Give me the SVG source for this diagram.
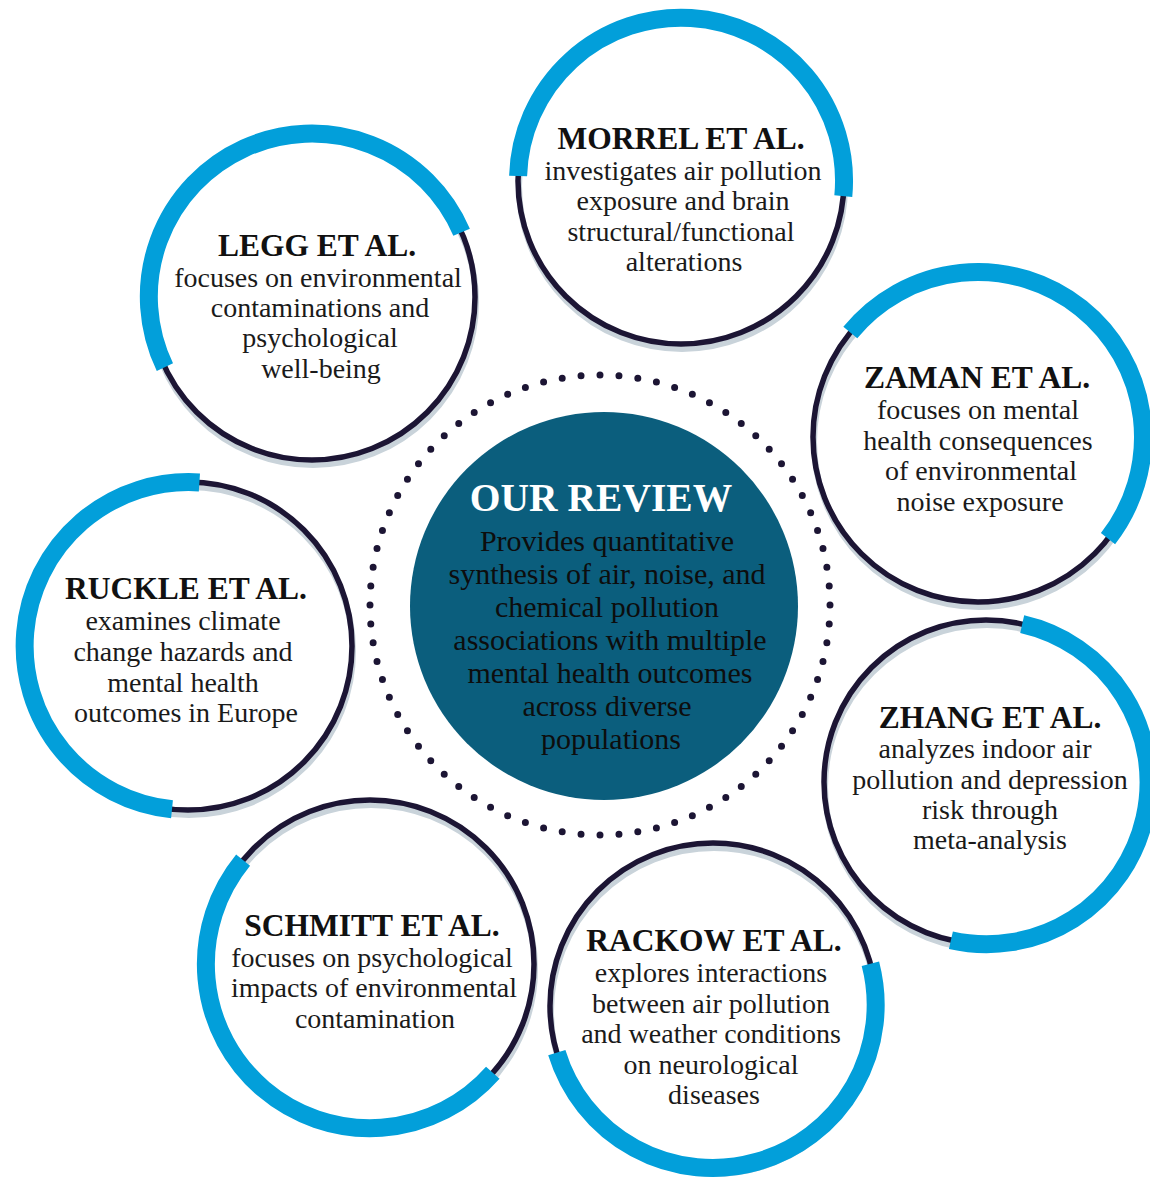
<svg xmlns="http://www.w3.org/2000/svg" width="1150" height="1179" viewBox="0 0 1150 1179">
<style>
.shadow{fill:none;stroke:#c9d3da;stroke-width:6}
.ring{fill:none;stroke:#1c1534;stroke-width:5.5}
.arc{fill:none;stroke:#029fda;stroke-width:18;stroke-linecap:butt}
.title{font-family:"Liberation Serif",serif;font-weight:bold;font-size:31.5px;fill:#111;text-anchor:middle}
.body{font-family:"Liberation Serif",serif;font-size:28px;fill:#1a1a1a;text-anchor:middle}
.ctitle{font-family:"Liberation Serif",serif;font-weight:bold;font-size:39.5px;fill:#ffffff;text-anchor:middle}
.cbody{font-family:"Liberation Serif",serif;font-size:30px;fill:#0d0d0d;text-anchor:middle}
</style>
<rect width="1150" height="1179" fill="#ffffff"/>

<g id="connectors">
<circle cx="600" cy="605" r="230" fill="none" stroke="#1c1534" stroke-width="7" stroke-linecap="round" pathLength="76" stroke-dasharray="0 1"/>
</g>

<g id="our-review">
<circle cx="604" cy="606" r="194" fill="#0b5e7d"/>
<text class="ctitle" x="601" y="511">OUR REVIEW</text>
<text class="cbody" x="607" y="551">Provides quantitative</text>
<text class="cbody" x="607" y="584">synthesis of air, noise, and</text>
<text class="cbody" x="607" y="617">chemical pollution</text>
<text class="cbody" x="610" y="650">associations with multiple</text>
<text class="cbody" x="610" y="683">mental health outcomes</text>
<text class="cbody" x="607" y="716">across diverse</text>
<text class="cbody" x="611" y="749">populations</text>
</g>

<g id="morrel">
<circle class="shadow" cx="682" cy="186" r="163"/>
<circle class="ring" cx="681" cy="181" r="163"/>
<path class="arc" d="M518.1,175.9 A163,163 0 1 1 843.3,196.1"/>
<text class="title" x="681" y="149">MORREL ET AL.</text>
<text class="body" x="683" y="180">investigates air pollution</text>
<text class="body" x="683" y="210">exposure and brain</text>
<text class="body" x="681" y="241">structural/functional</text>
<text class="body" x="684" y="271">alterations</text>
</g>

<g id="legg">
<circle class="shadow" cx="313" cy="302" r="163"/>
<circle class="ring" cx="312" cy="297" r="163"/>
<path class="arc" d="M164.9,367.2 A163,163 0 1 1 461.6,232.3"/>
<text class="title" x="317" y="256">LEGG ET AL.</text>
<text class="body" x="318" y="287">focuses on environmental</text>
<text class="body" x="320" y="317">contaminations and</text>
<text class="body" x="320" y="347">psychological</text>
<text class="body" x="321" y="378">well-being</text>
</g>

<g id="zaman">
<circle class="shadow" cx="979" cy="442" r="165"/>
<circle class="ring" cx="978" cy="437" r="165"/>
<path class="arc" d="M850.3,332.5 A165,165 0 0 1 1108.0,538.6"/>
<text class="title" x="977" y="388">ZAMAN ET AL.</text>
<text class="body" x="978" y="419">focuses on mental</text>
<text class="body" x="978" y="450">health consequences</text>
<text class="body" x="981" y="480">of environmental</text>
<text class="body" x="980" y="511">noise exposure</text>
</g>

<g id="ruckle">
<circle class="shadow" cx="189" cy="651" r="164"/>
<circle class="ring" cx="188" cy="646" r="164"/>
<path class="arc" d="M172.0,809.2 A164,164 0 0 1 199.4,482.4"/>
<text class="title" x="186" y="599">RUCKLE ET AL.</text>
<text class="body" x="183" y="630">examines climate</text>
<text class="body" x="183" y="661">change hazards and</text>
<text class="body" x="183" y="692">mental health</text>
<text class="body" x="186" y="722">outcomes in Europe</text>
</g>

<g id="zhang">
<circle class="shadow" cx="987" cy="787" r="162"/>
<circle class="ring" cx="986" cy="782" r="162"/>
<path class="arc" d="M1022.2,624.1 A162,162 0 0 1 950.9,940.2"/>
<text class="title" x="990" y="728">ZHANG ET AL.</text>
<text class="body" x="985" y="758">analyzes indoor air</text>
<text class="body" x="990" y="789">pollution and depression</text>
<text class="body" x="990" y="819">risk through</text>
<text class="body" x="990" y="849">meta-analysis</text>
</g>

<g id="schmitt">
<circle class="shadow" cx="371" cy="969" r="164"/>
<circle class="ring" cx="370" cy="964" r="164"/>
<path class="arc" d="M492.8,1072.7 A164,164 0 0 1 243.1,860.1"/>
<text class="title" x="372" y="936">SCHMITT ET AL.</text>
<text class="body" x="372" y="967">focuses on psychological</text>
<text class="body" x="374" y="997">impacts of environmental</text>
<text class="body" x="375" y="1028">contamination</text>
</g>

<g id="rackow">
<circle class="shadow" cx="714" cy="1011" r="163"/>
<circle class="ring" cx="713" cy="1006" r="163"/>
<path class="arc" d="M870.4,963.8 A163,163 0 0 1 556.8,1052.6"/>
<text class="title" x="714" y="951">RACKOW ET AL.</text>
<text class="body" x="711" y="982">explores interactions</text>
<text class="body" x="711" y="1013">between air pollution</text>
<text class="body" x="711" y="1043">and weather conditions</text>
<text class="body" x="711" y="1074">on neurological</text>
<text class="body" x="714" y="1104">diseases</text>
</g>
</svg>
